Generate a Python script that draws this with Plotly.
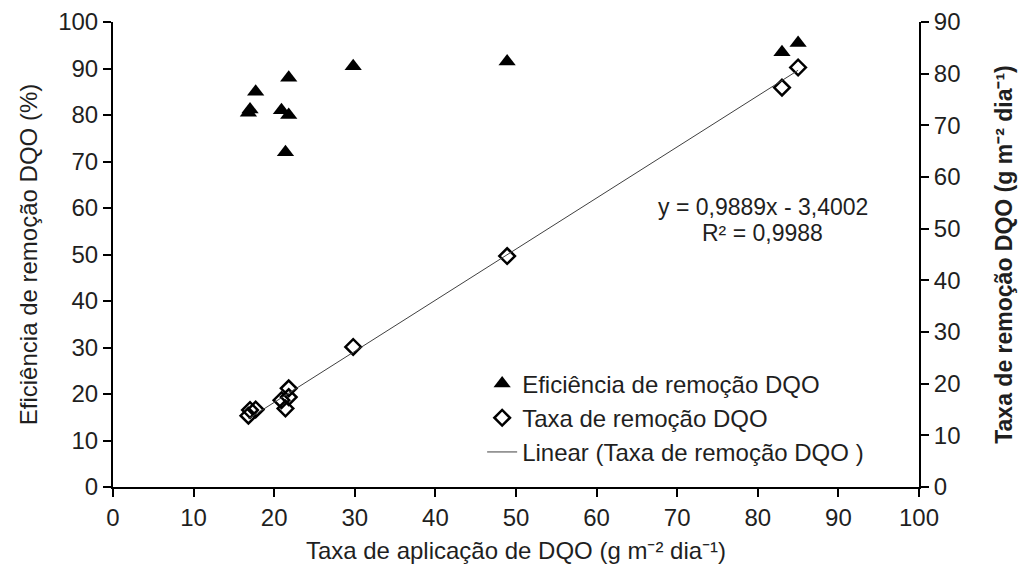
import plotly.graph_objects as go

# Taxa de aplicação de DQO (g m-2 dia-1)
taxa_aplicacao = [16.8, 17.0, 17.7, 20.9, 21.8, 21.4, 21.8, 29.8, 48.9, 83.0, 85.0]
# Eficiência de remoção DQO (%)
eficiencia = [80.5, 81.2, 85.0, 81.0, 80.0, 72.0, 88.0, 90.5, 91.5, 93.5, 95.5]
# Taxa de remoção DQO (g m-2 dia-1)
taxa_remocao = [13.8, 14.9, 15.0, 16.8, 17.4, 15.2, 19.1, 27.1, 44.7, 77.3, 81.2]

# Linear fit reported on the chart
slope = 0.9889
intercept = -3.4002
r2 = 0.9988

x_ticks = list(range(0, 101, 10))
y1_ticks = list(range(0, 101, 10))
y2_ticks = list(range(0, 91, 10))

FONT = "Liberation Sans, Arial, sans-serif"
TXT = "#1f1f1f"
TICK_SIZE = 24

x_fit = [min(taxa_aplicacao), max(taxa_aplicacao)]
y_fit = [slope * v + intercept for v in x_fit]

fig = go.Figure()

fig.add_trace(go.Scatter(
    x=taxa_aplicacao, y=eficiencia, mode="markers",
    name="Eficiência de remoção DQO",
    marker=dict(symbol="triangle-up", size=15, color="black"),
    yaxis="y",
))
fig.add_trace(go.Scatter(
    x=taxa_aplicacao, y=taxa_remocao, mode="markers",
    name="Taxa de remoção DQO",
    marker=dict(symbol="diamond-open", size=12, color="black",
                line=dict(width=2.5, color="black")),
    yaxis="y2",
))
fig.add_trace(go.Scatter(
    x=x_fit, y=y_fit, mode="lines",
    name="Linear (Taxa de remoção DQO )",
    line=dict(color="#404040", width=1),
    yaxis="y2",
))

# Trendline equation and R², one annotation per line
eq_lines = [
    f"y = {slope:.4f}x - {abs(intercept):.4f}".replace(".", ","),
    f"R² = {r2:.4f}".replace(".", ","),
]
for text, ypos in zip(eq_lines, [0.602, 0.547]):
    fig.add_annotation(
        x=80.6, y=ypos, xref="x", yref="paper", text=text,
        showarrow=False, xanchor="center", yanchor="middle",
        font=dict(family=FONT, size=23, color=TXT),
    )

axis_common = dict(
    showgrid=False, zeroline=False, showline=True, linecolor="black",
    linewidth=2, ticks="outside", ticklen=8, tickwidth=1.5, tickcolor="black",
    tickfont=dict(family=FONT, size=TICK_SIZE, color=TXT), automargin=False,
)

fig.update_layout(
    width=1026, height=569,
    margin=dict(l=113, r=107, t=22, b=82),
    paper_bgcolor="white", plot_bgcolor="white",
    font=dict(family=FONT, color=TXT),
    xaxis=dict(
        range=[0, 100], tickvals=x_ticks, **axis_common,
        title=dict(text="Taxa de aplicação de DQO (g m⁻² dia⁻¹)",
                   font=dict(family=FONT, size=24, color=TXT), standoff=12),
    ),
    yaxis=dict(
        range=[0, 100], tickvals=y1_ticks, **axis_common,
        title=dict(text="Eficiência de remoção DQO (%)",
                   font=dict(family=FONT, size=24, color=TXT), standoff=14),
    ),
    yaxis2=dict(
        range=[0, 90], tickvals=y2_ticks, overlaying="y", side="right",
        **axis_common,
        title=dict(text="<b>Taxa de remoção DQO (g m⁻² dia⁻¹)</b>",
                   font=dict(family=FONT, size=23, color=TXT), standoff=36),
    ),
    legend=dict(
        x=0.458, y=0.270, xanchor="left", yanchor="top",
        bgcolor="rgba(0,0,0,0)", borderwidth=0,
        font=dict(family=FONT, size=TICK_SIZE, color=TXT),
        tracegroupgap=0, itemsizing="trace",
    ),
    showlegend=True,
)

fig.write_html("out.html")
